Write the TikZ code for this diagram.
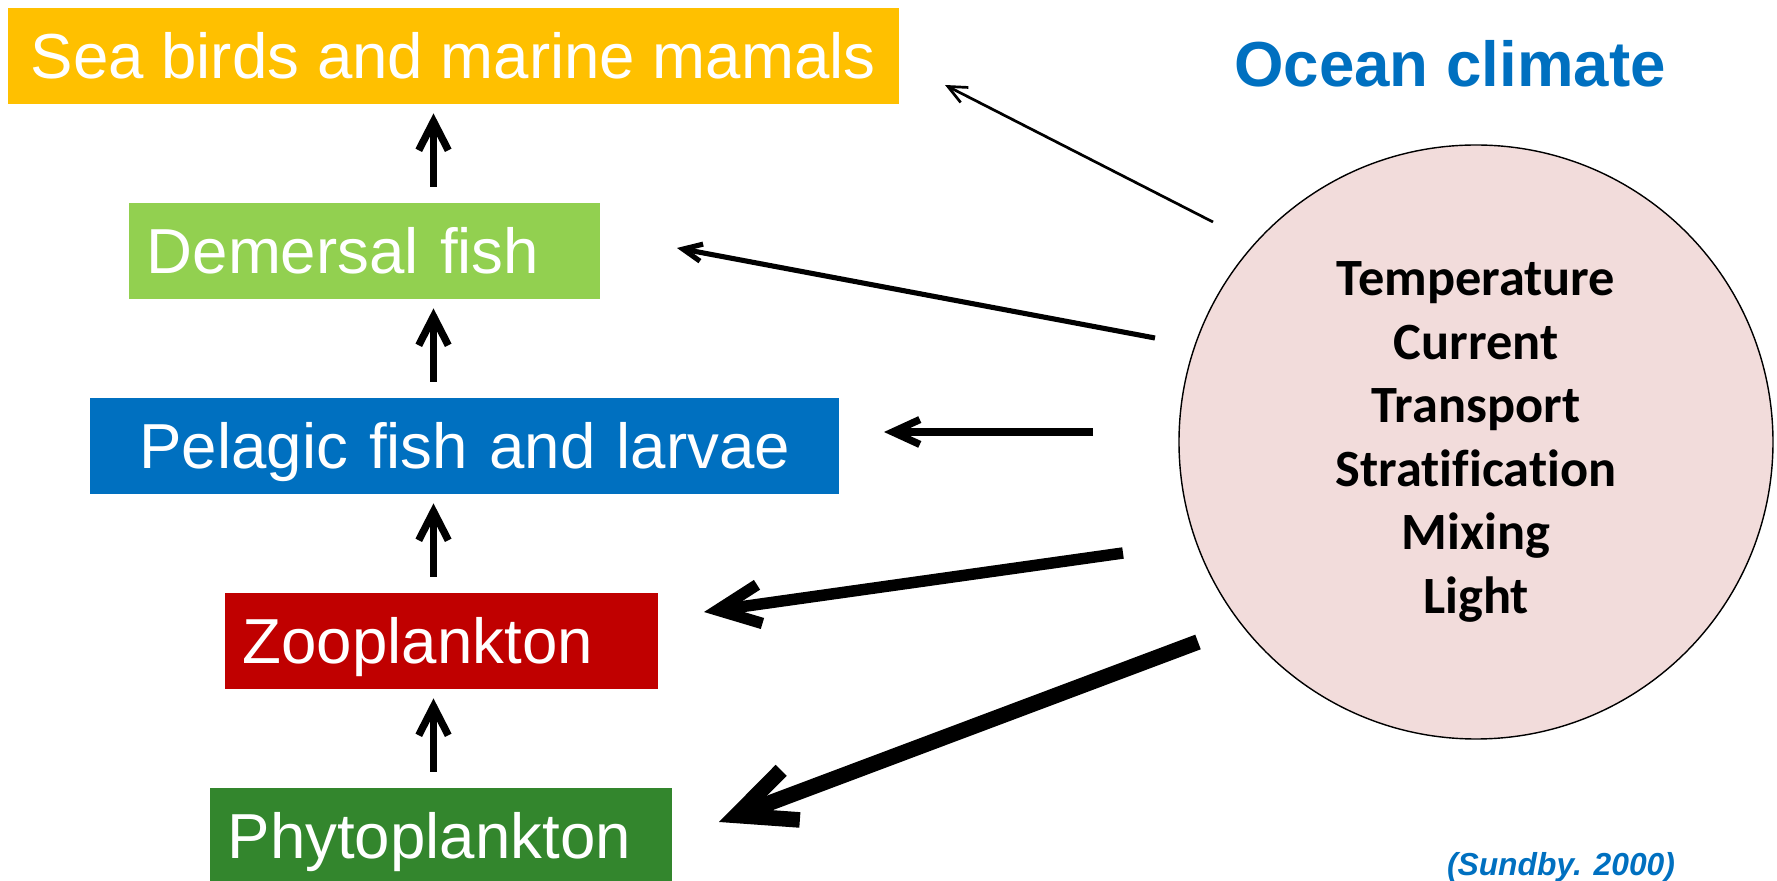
\documentclass[tikz,border=0pt]{standalone}
\usepackage{fontspec}
\setmainfont{Liberation Sans}
\newfontfamily\calibri[Ligatures=NoCommon]{Carlito}
\usetikzlibrary{arrows.meta}
\definecolor{seabird}{RGB}{255,192,0}
\definecolor{demersal}{RGB}{146,208,80}
\definecolor{pelagic}{RGB}{0,112,192}
\definecolor{zoo}{RGB}{192,0,0}
\definecolor{phyto}{RGB}{51,134,45}
\definecolor{mist}{RGB}{242,220,219}
\definecolor{oceanblue}{RGB}{0,112,192}
\tikzset{
  level/.style={text=white, font=\fontsize{18.1}{21.7}\selectfont, anchor=north west,
              text height=0.457cm, text depth=0pt, minimum height=0.96cm,
              inner xsep=0.18cm, inner ysep=0pt, align=left},
  rise/.style={-{Straight Barb[length=0pt 3.9, width=0pt 4]}, line width=2.1pt,
              shorten <=0.15cm, shorten >=0.09cm},
  forcing/.style={-{Straight Barb[length=0pt 3.7, width=0pt 3.4]}, line width=#1},
}

\begin{document}
\begin{tikzpicture}
        \useasboundingbox (0,0) rectangle (17.77,-8.81);
        % ===================== food chain =====================
        \node[level, fill=seabird, minimum width=8.91cm, align=center] (sea) at (0.07,-0.07) {Sea birds and marine mamals};
        \node[level, fill=demersal, text width=4.35cm] (dem)  at (1.28,-2.02) {Demersal fish};
        \node[level, fill=pelagic, text width=7.13cm, align=center] (pel) at (0.895,-3.97) {Pelagic fish and larvae};
        \node[level, fill=zoo, text width=3.97cm]      (zoo)  at (2.24,-5.92) {Zooplankton};
        \node[level, fill=phyto, text width=4.26cm]    (phy)  at (2.09,-7.87) {Phytoplankton};
        \coordinate (spine) at (4.335,0);
        \draw[rise] (dem.north -| spine) -- (sea.south -| spine);
        \draw[rise] (pel.north -| spine) -- (dem.south -| spine);
        \draw[rise] (zoo.north -| spine) -- (pel.south -| spine);
        \draw[rise] (phy.north -| spine) -- (zoo.south -| spine);
        % ===================== ocean climate =====================
        \node[text=oceanblue, font=\bfseries\fontsize{18.1}{21.7}\selectfont, anchor=base] (title) at (14.50,-0.867) {Ocean climate};
        \node[circle, fill=mist, draw=black, line width=0.4pt, minimum size=5.94cm, inner sep=0pt,
              align=center, font=\calibri\bfseries\fontsize{14.9}{18.1}\selectfont] (climate) at (14.76,-4.42)
              {Temperature\\Current\\Transport\\Stratification\\Mixing\\Light};
        \node[text=oceanblue, font=\bfseries\itshape\fontsize{9.05}{11}\selectfont, anchor=base] (source) at (15.61,-8.76) {(Sundby. 2000)};
        % ===================== forcing arrows =====================
        \coordinate (outSea) at (12.13,-2.22);  \coordinate (inSea) at (9.45,-0.85);
        \coordinate (outDem) at (11.55,-3.38);  \coordinate (inDem) at (6.77,-2.48);
        \coordinate (outPel) at (10.93,-4.32);  \coordinate (inPel) at (8.84,-4.32);
        \coordinate (outZoo) at (11.23,-5.53);  \coordinate (inZoo) at (7.04,-6.12);
        \coordinate (outPhy) at (11.98,-6.42);  \coordinate (inPhy) at (7.19,-8.22);
        \draw[forcing=0.77pt, -{Straight Barb[length=5.3pt, width=4.8pt]}] (outSea) -- (inSea);
        \draw[forcing=1.45pt] (outDem) -- (inDem);
        \draw[forcing=2.08pt] (outPel) -- (inPel);
        \draw[forcing=3.27pt] (outZoo) -- (inZoo);
        \draw[forcing=4.44pt] (outPhy) -- (inPhy);
\end{tikzpicture}
\end{document}
